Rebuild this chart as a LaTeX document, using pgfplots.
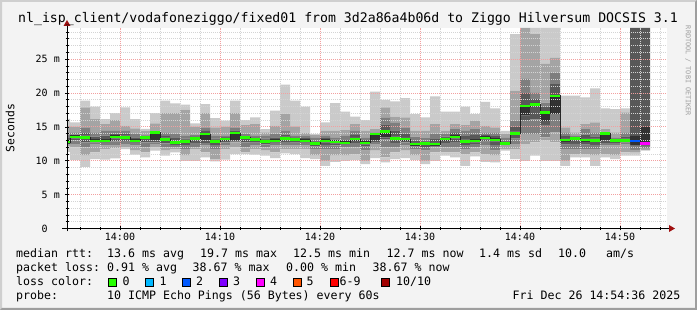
\documentclass[border=0pt]{standalone}
\usepackage{fontspec}
\setmainfont{DejaVu Sans Mono}
\usepackage{pgfplots}
\usepackage{pgfplotstable}
\pgfplotsset{compat=1.18}

\definecolor{bgc}{HTML}{F3F3F3}
\definecolor{shA}{HTML}{CFCFCF}
\definecolor{shB}{HTML}{9E9E9E}
\definecolor{sA}{HTML}{CACACA}
\definecolor{sB}{HTML}{A4A4A4}
\definecolor{sC}{HTML}{7E7E7E}
\definecolor{sD}{HTML}{585858}
\definecolor{sE}{HTML}{323232}
\definecolor{lc0}{HTML}{26FF00}
\definecolor{lc1}{HTML}{00B8FF}
\definecolor{lc2}{HTML}{0059FF}
\definecolor{lc3}{HTML}{7E00FF}
\definecolor{lc4}{HTML}{FF00FF}
\definecolor{lc5}{HTML}{FF5500}
\definecolor{lc6}{HTML}{FF0000}
\definecolor{lc10}{HTML}{A10000}
\definecolor{arr}{HTML}{A01010}
\definecolor{mgrid}{HTML}{F2A0A0}
\definecolor{ngrid}{HTML}{D4D4D4}

\pgfplotstableread{
t l1 h1 l2 h2 l3 h3 l4 h4 l5 h5 med
-6 11.3 16.2 12.2 15.2 12.4 13.9 12.5 13.33 12.5 13.0 12.75
-5 10.1 15.67 11.97 15.02 12.46 14.19 13.0 13.87 13.3 13.8 13.55
-4 9.11 18.87 10.74 17.88 11.97 14.93 12.71 14.19 13.2 13.7 13.45
-3 10.25 17.98 11.23 16.16 12.46 14.19 12.71 13.58 12.71 13.21 12.96
-2 10.15 16.16 11.72 15.42 12.22 14.43 12.59 13.7 12.71 13.21 12.96
-1 10.34 17.04 11.82 16.0 12.22 14.43 12.88 13.99 13.3 13.8 13.55
0 11.72 17.88 11.97 15.17 12.46 14.43 12.95 13.94 13.2 13.7 13.45
1 10.89 16.16 11.48 14.78 12.22 13.94 12.59 13.45 12.71 13.21 12.96
2 10.49 14.68 11.23 14.43 11.97 13.69 12.71 13.7 13.2 13.7 13.45
3 11.48 17.04 11.97 15.52 12.46 14.19 12.7 14.19 12.96 14.19 14.19
4 10.74 18.87 11.48 17.04 11.97 14.19 12.56 13.67 12.9 13.4 13.15
5 11.23 18.47 11.72 17.04 11.97 13.94 12.34 13.33 12.46 12.96 12.71
6 10.0 18.28 10.74 17.54 11.72 13.69 12.29 13.28 12.61 13.11 12.86
7 10.0 15.52 11.72 15.02 11.97 13.84 12.64 13.57 13.05 13.55 13.3
8 10.49 18.37 11.23 17.04 12.22 14.93 12.6 14.4 12.96 13.94 13.94
9 9.9 16.3 10.25 14.93 11.72 13.69 12.29 13.28 12.61 13.11 12.86
10 10.15 15.91 11.72 15.02 12.22 13.69 12.71 13.45 12.95 13.45 13.2
11 10.99 18.87 11.97 17.04 12.71 14.93 12.9 14.5 13.05 14.09 14.09
12 10.99 16.0 11.23 15.27 11.97 13.94 12.71 13.7 13.2 13.7 13.45
13 10.89 16.4 11.72 15.42 12.22 13.69 12.69 13.42 12.9 13.4 13.15
14 10.74 14.68 11.48 14.19 11.97 13.69 12.42 13.28 12.61 13.11 12.86
15 10.39 17.39 11.23 15.17 12.22 13.94 12.59 13.45 12.71 13.21 12.96
16 11.08 21.23 11.72 16.9 12.22 14.43 12.76 13.87 13.05 13.55 13.3
17 10.99 18.87 11.72 15.07 12.22 13.69 12.69 13.42 12.9 13.4 13.15
18 10.39 17.98 11.72 14.09 12.22 13.69 12.59 13.33 12.71 13.21 12.96
19 10.25 13.94 10.74 13.79 11.72 13.45 12.14 13.0 12.31 12.81 12.56
20 9.26 15.67 10.0 14.43 11.72 13.69 12.34 13.33 12.71 13.21 12.96
21 9.85 18.52 10.74 14.43 11.72 13.45 12.27 13.13 12.56 13.06 12.81
22 10.0 17.24 10.74 14.53 11.97 13.69 12.31 13.17 12.41 12.91 12.66
23 10.1 16.5 10.99 15.42 11.97 14.43 12.59 13.81 12.95 13.45 13.2
24 9.51 16.0 10.0 14.43 11.48 13.45 12.07 13.05 12.41 12.91 12.66
25 10.39 20.2 11.48 14.68 12.46 14.19 12.75 14.06 13.05 13.94 13.94
26 9.75 19.0 10.49 17.88 11.97 16.4 13.15 15.36 13.45 14.33 14.33
27 10.25 18.77 11.23 16.5 11.97 15.67 12.64 14.48 13.05 13.55 13.3
28 10.39 19.26 11.48 16.4 12.22 14.93 12.71 14.06 12.95 13.45 13.2
29 10.1 16.9 10.74 14.43 11.72 13.55 12.09 13.0 12.21 12.71 12.46
30 9.51 16.4 10.0 14.43 11.48 13.35 12.02 12.96 12.31 12.81 12.56
31 10.0 19.5 11.23 15.42 11.97 13.94 12.21 13.2 12.21 12.71 12.46
32 10.74 17.24 11.23 14.43 11.97 13.94 12.59 13.57 12.95 13.45 13.2
33 10.49 17.24 11.23 15.42 11.97 14.68 12.76 14.12 13.3 13.8 13.55
34 9.26 17.98 10.99 15.27 11.72 14.43 12.29 13.65 12.61 13.11 12.86
35 10.64 16.9 11.23 15.9 11.97 14.68 12.47 13.82 12.71 13.21 12.96
36 9.85 18.7 10.99 15.17 12.22 14.19 12.81 13.8 13.15 13.65 13.4
37 9.75 17.73 10.74 14.93 11.48 14.19 12.29 13.65 12.85 13.35 13.1
38 11.48 14.43 11.72 13.94 12.22 13.45 12.31 13.0 12.31 12.81 12.56
39 10.25 28.7 11.72 20.34 12.46 15.9 13.25 14.97 13.79 14.29 14.04
40 10.0 29.6 12.46 29.6 13.94 22.07 16.0 20.1 16.65 18.08 18.08
41 10.74 29.6 12.7 28.7 13.94 20.1 16.1 19.2 18.05 18.55 18.3
42 10.0 29.6 12.96 24.3 13.45 18.6 15.3 17.9 15.9 17.14 17.14
43 10.0 29.6 12.7 25.2 14.19 23.05 16.9 21.3 16.9 19.6 19.6
44 9.26 19.6 10.0 14.93 11.72 14.19 12.39 13.62 12.8 13.3 13.05
45 10.49 19.6 10.99 14.19 11.72 13.69 12.51 13.55 13.05 13.55 13.3
46 10.49 19.36 10.99 15.42 11.72 14.68 12.39 13.87 12.8 13.3 13.05
47 9.26 20.7 10.74 15.67 11.72 14.19 12.36 13.6 12.75 13.25 13.0
48 10.49 17.73 10.99 14.68 12.22 14.3 12.6 14.1 12.96 14.04 14.04
49 10.25 17.64 10.74 14.19 12.22 13.45 12.61 13.25 12.75 13.25 13.0
50 10.74 17.73 11.23 17.14 12.46 14.19 12.73 13.6 12.75 13.25 13.0
51 10.74 29.6 11.2 29.6 11.6 29.6 12.2 29.6 12.22 13.69 12.96
52 11.48 29.6 11.6 29.6 11.9 29.6 12.2 29.6 12.22 15.02 12.56
53 11.48 29.6 11.6 29.6 11.9 29.6 12.2 29.6 12.22 15.02 12.56
}\smoke

\newcommand{\legfont}{\fontsize{11.6}{13}\selectfont}
\pgfplotsset{
  rrdgeom/.style={at={(67pt,81.5pt)}, anchor=south west,
    scale only axis, width=600pt, height=200.5pt,
    xmin=-5.3, xmax=54.7, ymin=0, ymax=29.6},
  smk/.style={fill=#1, draw=none},
}

\begin{document}
\begin{tikzpicture}[x=1pt,y=1pt]
\fill[bgc] (0,0) rectangle (697,310);
\fill[shA] (0,0) -- (0,310) -- (697,310) -- (695,308) -- (2,308) -- (2,2) -- cycle;
\fill[shB] (697,310) -- (697,0) -- (0,0) -- (2,2) -- (695,2) -- (695,308) -- cycle;

\begin{axis}[
  rrdgeom,
  ybar stacked, bar width=1, bar shift=0pt,
  axis background/.style={fill=white},
  axis x line*=bottom, axis y line*=left,
  axis line style={draw=none},
  axis on top,
  xtick={0,10,20,30,40,50},
  xticklabels={14:00,14:10,14:20,14:30,14:40,14:50},
  minor xtick={-4,-2,2,4,6,8,12,14,16,18,22,24,26,28,32,34,36,38,42,44,46,48,52,54},
  ytick={0,5,10,15,20,25},
  yticklabels={0\phantom{~m},5 m,10 m,15 m,20 m,25 m},
  minor ytick={1,2,3,4,6,7,8,9,11,12,13,14,16,17,18,19,21,22,23,24,26,27,28,29},
  grid=both,
  major grid style={draw=mgrid, line width=0.8pt, dash pattern=on 1pt off 1pt},
  minor grid style={draw=ngrid, line width=0.8pt, dash pattern=on 1pt off 1pt},
  tick style={black, line width=0.7pt},
  major tick length=4pt, minor tick length=3pt, tick align=center,
  xticklabel style={font=\fontsize{10}{12}\selectfont, inner sep=0pt, anchor=base, yshift=-10pt},
  yticklabel style={font=\fontsize{10}{12}\selectfont, inner sep=0pt, anchor=east, xshift=-5pt},
  table/x expr=\thisrow{t}+0.5,
  skip coords between index={59}{60},
]
\addplot[fill=none, draw=none] table[y=l1]{\smoke};
\addplot[smk=sA] table[y expr=\thisrow{l2}-\thisrow{l1}]{\smoke};
\addplot[smk=sB] table[y expr=\thisrow{l3}-\thisrow{l2}]{\smoke};
\addplot[smk=sC] table[y expr=\thisrow{l4}-\thisrow{l3}]{\smoke};
\addplot[smk=sD] table[y expr=\thisrow{l5}-\thisrow{l4}]{\smoke};
\addplot[smk=sE] table[y expr=\thisrow{h5}-\thisrow{l5}]{\smoke};
\addplot[smk=sD] table[y expr=\thisrow{h4}-\thisrow{h5}]{\smoke};
\addplot[smk=sC] table[y expr=\thisrow{h3}-\thisrow{h4}]{\smoke};
\addplot[smk=sB] table[y expr=\thisrow{h2}-\thisrow{h3}]{\smoke};
\addplot[smk=sA] table[y expr=\thisrow{h1}-\thisrow{h2}]{\smoke};
\end{axis}

\begin{axis}[rrdgeom, hide axis]
\addplot[const plot, draw=black!85, line width=0.9pt] table[x=t,y=med]{\smoke};
\addplot[jump mark left, draw=lc0, line width=2.3pt, restrict x to domain=-6:51] table[x=t,y=med]{\smoke};
\addplot[jump mark left, draw=lc2, line width=2.3pt, restrict x to domain=51:52] table[x=t,y=med]{\smoke};
\addplot[jump mark left, draw=lc4, line width=2.3pt, restrict x to domain=52:53] table[x=t,y=med]{\smoke};
\end{axis}

% axis lines with arrows
\draw[black, line width=0.9pt] (62,81.5) -- (669,81.5);
\fill[arr] (669,78) -- (675,81.5) -- (669,85) -- cycle;
\draw[black, line width=0.9pt] (67,78.5) -- (67,284);
\fill[arr] (63.5,284) -- (67,290) -- (70.5,284) -- cycle;

% title
\node[anchor=base, inner sep=0pt, font=\fontsize{13.2}{15}\selectfont] at (348,287) {nl\_isp\_client/vodafoneziggo/fixed01 from 3d2a86a4b06d to Ziggo Hilversum DOCSIS 3.1};
% side text
\node[rotate=-90, inner sep=0pt, text=black!38, font=\fontsize{6.8}{8}\selectfont] at (688,239) {RRDTOOL / TOBI OETIKER};
% y label
\node[rotate=90, inner sep=0pt, font=\fontsize{11.4}{13}\selectfont] at (10,182) {Seconds};

% legend lines
\begin{scope}[every node/.style={anchor=base west, inner sep=0pt, font=\legfont}]
\node at (16,52) {median rtt:};
\node at (107,52) {13.6 ms avg};
\node at (200,52) {19.7 ms max};
\node at (293,52) {12.5 ms min};
\node at (386.5,52) {12.7 ms now};
\node at (479,52) {1.4 ms sd};
\node at (558,52) {10.0};
\node at (606,52) {am/s};
\node at (16,38) {packet loss:};
\node at (107,38) {0.91 \% avg};
\node at (192.5,38) {38.67 \% max};
\node at (286,38) {0.00 \% min};
\node at (372.5,38) {38.67 \% now};
\node at (16,24) {loss color:};
\node at (122.5,24) {0};
\node at (159.5,24) {1};
\node at (196,24) {2};
\node at (233,24) {3};
\node at (270,24) {4};
\node at (306.5,24) {5};
\node at (339.5,24) {6-9};
\node at (396,24) {10/10};
\node at (16,10) {probe:};
\node at (107,10) {10 ICMP Echo Pings (56 Bytes) every 60s};
\end{scope}
\node[anchor=base east, inner sep=0pt, font=\legfont] at (680.5,10) {Fri Dec 26 14:54:36 2025};
\foreach \xx/\cc in {108.3/lc0,145.3/lc1,182.3/lc2,219.3/lc3,256.3/lc4,293.3/lc5,330.3/lc6,381.7/lc10}{
  \filldraw[fill=\cc, draw=black, line width=0.8pt] (\xx,23.6) rectangle ++(7.6,8.2);
}
\pgfresetboundingbox
\path (0,0) rectangle (697,310);
\end{tikzpicture}
\end{document}
